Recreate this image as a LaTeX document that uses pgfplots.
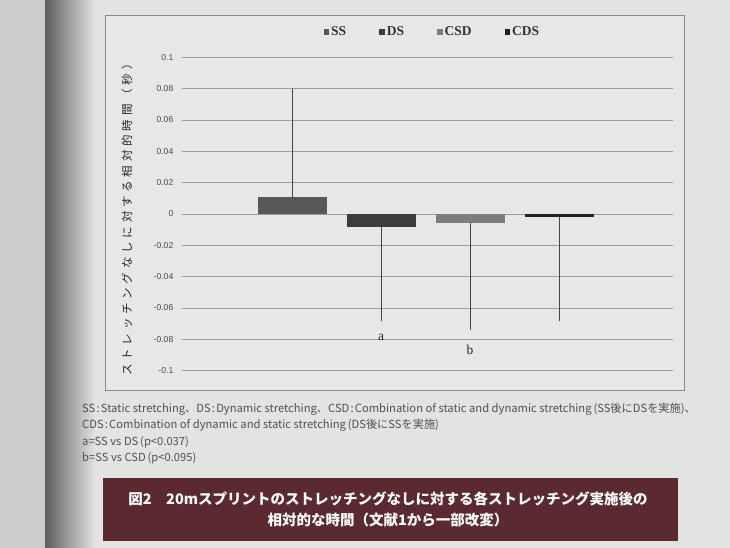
\documentclass[border=0pt]{standalone}
\usepackage{fontspec}
\usepackage{pgfplots}
\pgfplotsset{compat=1.18}
\setmainfont{Liberation Serif}
\newfontfamily\lsans{Liberation Sans}
\newfontfamily\jp{Noto Sans CJK JP}
\newfontfamily\jpls{Noto Sans CJK JP}[LetterSpace=33]
\definecolor{bg}{HTML}{E3E3E1}
\definecolor{chartbg}{HTML}{E7E7E5}
\definecolor{leftpage}{HTML}{CDCDCB}
\definecolor{gutter}{HTML}{5E5E5E}
\definecolor{framec}{HTML}{8A8A8A}
\definecolor{gridc}{HTML}{9C9C9C}
\definecolor{tickc}{HTML}{4A4A4A}
\definecolor{labc}{HTML}{262626}
\definecolor{legc}{HTML}{333333}
\definecolor{notec}{HTML}{505050}
\definecolor{capc}{HTML}{5B2A30}
\definecolor{ssc}{HTML}{585858}
\definecolor{dsc}{HTML}{3C3C3C}
\definecolor{csdc}{HTML}{7D7D7D}
\definecolor{cdsc}{HTML}{222222}
\definecolor{errc}{HTML}{454545}
\newcommand\cl{\hspace{1.2pt}:\hspace{1.2pt}}
\begin{document}
\begin{tikzpicture}[x=1pt,y=1pt]
\useasboundingbox (0,0) rectangle (730,548);
\fill[bg] (0,0) rectangle (730,548);
\fill[leftpage] (0,0) rectangle (45,548);
\shade[left color=gutter, right color=bg] (45,0) rectangle (95,548);
\draw[framec, line width=0.8pt, fill=chartbg] (105,158) rectangle (684,533);
\begin{axis}[
  at={(182pt,177.3pt)}, anchor=south west,
  scale only axis, width=491pt, height=313.4pt,
  xmin=182, xmax=673, ymin=-0.1, ymax=0.1,
  clip=false,
  axis line style={draw=none},
  xtick=\empty,
  ytick={-0.1,-0.08,-0.06,-0.04,-0.02,0,0.02,0.04,0.06,0.08,0.1},
  yticklabels={-0.1,-0.08,-0.06,-0.04,-0.02,0,0.02,0.04,0.06,0.08,0.1},
  major tick length=0pt,
  ymajorgrids,
  grid style={gridc, line width=0.7pt},
  yticklabel style={font=\lsans\fontsize{8.6}{10}\selectfont, text=tickc, inner sep=0pt, xshift=-8.5pt},
  ylabel={\jpls ストレッチングなしに対する相対的時間（秒）},
  ylabel style={at={(axis description cs:-0.112,0.49)}, anchor=center, font=\fontsize{11.5}{13}\selectfont, text=labc, inner sep=0pt},
  legend style={at={(axis description cs:0.51,1.08)}, anchor=center, draw=none, fill=none,
    font=\bfseries\fontsize{13.5}{15}\selectfont, text=legc,
    /tikz/every even column/.append style={column sep=31pt}},
  legend columns=4,
  legend image code/.code={\fill[#1] (0pt,-2.8pt) rectangle (5.6pt,2.8pt);},
]
\addplot[ybar, bar width=69, bar shift=0pt, fill=ssc, draw=none,
  error bars/.cd, y dir=plus, y explicit,
  error bar style={draw=errc, line width=0.8pt},
  error mark options={draw=errc, line width=0.8pt, mark size=2pt}]
  coordinates {(292.5,0.011) +- (0,0.0677)};
\addlegendentry{SS}
\addplot[ybar, bar width=69, bar shift=0pt, fill=dsc, draw=none,
  error bars/.cd, y dir=minus, y explicit,
  error bar style={draw=errc, line width=0.8pt},
  error mark options={draw=errc, line width=0.8pt, mark size=2pt}]
  coordinates {(381,-0.008) +- (0,0.059)};
\addlegendentry{DS}
\addplot[ybar, bar width=69, bar shift=0pt, fill=csdc, draw=none,
  error bars/.cd, y dir=minus, y explicit,
  error bar style={draw=errc, line width=0.8pt},
  error mark options={draw=errc, line width=0.8pt, mark size=2pt}]
  coordinates {(470,-0.0058) +- (0,0.0668)};
\addlegendentry{CSD}
\addplot[ybar, bar width=69, bar shift=0pt, fill=cdsc, draw=none,
  error bars/.cd, y dir=minus, y explicit,
  error bar style={draw=errc, line width=0.8pt},
  error mark options={draw=errc, line width=0.8pt, mark size=2pt}]
  coordinates {(559.5,-0.0021) +- (0,0.0652)};
\addlegendentry{CDS}
\node[font=\fontsize{13.5}{15}\selectfont, text=labc] at (axis cs:381,-0.0785) {a};
\node[font=\fontsize{13.5}{15}\selectfont, text=labc] at (axis cs:470,-0.0868) {b};
\end{axis}
\begin{scope}[every node/.style={anchor=base west, inner sep=0pt, font=\jp\fontsize{11.2}{13}\selectfont, text=notec}]
\node at (82,135.5) {SS\cl Static stretching、DS\cl Dynamic stretching、CSD\cl Combination of static and dynamic stretching\,(SS後にDSを実施)、};
\node at (82,119) {CDS\cl Combination of dynamic and static stretching\,(DS後にSSを実施)};
\node at (82,102.5) {a=SS vs DS\,(p<0.037)};
\node at (82,86) {b=SS vs CSD\,(p<0.095)};
\end{scope}
\fill[capc] (103,7) rectangle (678,70);
\node[anchor=base, inner sep=0pt, font=\jp\bfseries\fontsize{14.5}{16}\selectfont, text=white] at (388,43.5) {図2　20mスプリントのストレッチングなしに対する各ストレッチング実施後の};
\node[anchor=base, inner sep=0pt, font=\jp\bfseries\fontsize{14.5}{16}\selectfont, text=white] at (388,22.5) {相対的な時間（文献1から一部改変）};
\end{tikzpicture}
\end{document}
